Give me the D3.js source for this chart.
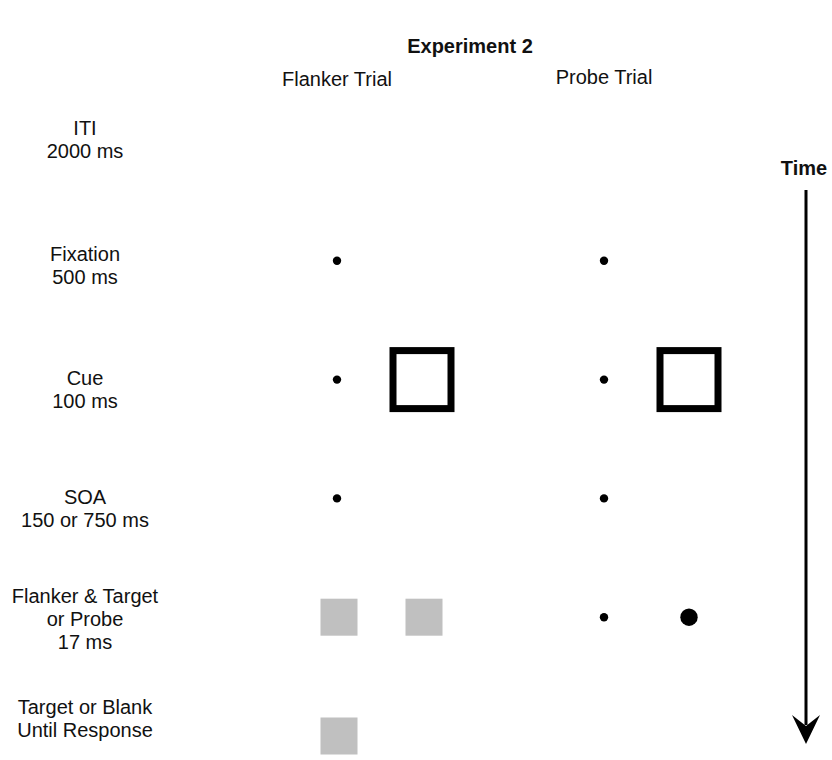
<!DOCTYPE html>
<html>
<head>
<meta charset="utf-8">
<script src="https://cdn.jsdelivr.net/npm/d3@7"></script>
<style>
  body { margin: 0; background: #fff; }
  svg text { font-family: "Liberation Sans", Arial, sans-serif; fill: #111; }
</style>
</head>
<body>
<svg id="chart" width="832" height="760"></svg>
<script>
// --- data -------------------------------------------------------------
const title = "Experiment 2";
const trials = ["Flanker Trial", "Probe Trial"];
const rows = ["ITI", "Fixation", "Cue", "SOA", "Display", "Response"];
const rowLabels = [
    ["ITI", "2000 ms"],
    ["Fixation", "500 ms"],
    ["Cue", "100 ms"],
    ["SOA", "150 or 750 ms"],
    ["Flanker & Target", "or Probe", "17 ms"],
    ["Target or Blank", "Until Response"]
];
// small fixation dots shown in each trial column
const fixationDots = [
    {trial: "Flanker Trial", row: "Fixation"},
    {trial: "Flanker Trial", row: "Cue"},
    {trial: "Flanker Trial", row: "SOA"},
    {trial: "Probe Trial", row: "Fixation"},
    {trial: "Probe Trial", row: "Cue"},
    {trial: "Probe Trial", row: "SOA"},
    {trial: "Probe Trial", row: "Display"}
];
// outlined cue squares (slot 1 = right of fixation)
const cues = [
    {trial: "Flanker Trial", row: "Cue", slot: 1},
    {trial: "Probe Trial", row: "Cue", slot: 1}
];
// gray flanker / target squares
const grayBoxes = [
    {trial: "Flanker Trial", row: "Display", slot: 0},
    {trial: "Flanker Trial", row: "Display", slot: 1},
    {trial: "Flanker Trial", row: "Response", slot: 0}
];
// probe dot
const probes = [
    {trial: "Probe Trial", row: "Display", slot: 1}
];
const timeLabel = "Time";

// --- layout -----------------------------------------------------------
const svg = d3.select("#chart");
const fontSize = 20, lineH = 23;
const labelX = 85;
const slotGap = 85;
// vertical nudge of the left labels relative to their row
const labelShift = {ITI: -3, Fixation: 5, Cue: 10, SOA: 10, Display: 2, Response: -18};

const x = d3.scalePoint().domain(trials).range([337, 604]);
const y = d3.scalePoint().domain(rows).range([142, 736]);
const sx = d => x(d.trial) + (d.slot || 0) * slotGap;

// title and column headers
svg.append("text")
    .attr("x", 470).attr("y", 53)
    .attr("text-anchor", "middle")
    .style("font-size", fontSize + "px")
    .style("font-weight", "bold")
    .text(title);

svg.selectAll(".trial")
    .data(trials)
    .enter().append("text")
    .attr("class", "trial")
    .attr("x", d => x(d))
    .attr("y", (d, i) => 86 - i * 2)
    .attr("text-anchor", "middle")
    .style("font-size", fontSize + "px")
    .text(d => d);

// row labels
const lab = svg.selectAll(".rowlabel")
    .data(rows)
    .enter().append("text")
    .attr("class", "rowlabel")
    .attr("text-anchor", "middle")
    .style("font-size", fontSize + "px");

lab.each(function (r, i) {
    const lines = rowLabels[i];
    const cy = y(r) + labelShift[r];
    const first = cy - (lines.length - 1) * lineH / 2 + 7;
    d3.select(this).selectAll("tspan")
        .data(lines)
        .enter().append("tspan")
        .attr("x", labelX)
        .attr("y", (d, j) => first + j * lineH)
        .text(d => d);
});

// marks
svg.selectAll(".fix")
    .data(fixationDots)
    .enter().append("circle")
    .attr("class", "fix")
    .attr("cx", d => sx(d))
    .attr("cy", d => y(d.row))
    .attr("r", 4.2)
    .attr("fill", "#000");

const cueSize = 58;
svg.selectAll(".cue")
    .data(cues)
    .enter().append("rect")
    .attr("class", "cue")
    .attr("x", d => sx(d) - cueSize / 2)
    .attr("y", d => y(d.row) - cueSize / 2)
    .attr("width", cueSize)
    .attr("height", cueSize)
    .attr("fill", "none")
    .attr("stroke", "#000")
    .attr("stroke-width", 7);

const boxSize = 37;
svg.selectAll(".gray")
    .data(grayBoxes)
    .enter().append("rect")
    .attr("class", "gray")
    .attr("x", d => sx(d) - boxSize / 2 + 2)
    .attr("y", d => y(d.row) - boxSize / 2)
    .attr("width", boxSize)
    .attr("height", boxSize)
    .attr("fill", "#c0c0c0");

svg.selectAll(".probe")
    .data(probes)
    .enter().append("circle")
    .attr("class", "probe")
    .attr("cx", d => sx(d))
    .attr("cy", d => y(d.row))
    .attr("r", 8.7)
    .attr("fill", "#000");

// time arrow
const ax = 806;
svg.append("text")
    .attr("x", ax - 2).attr("y", 175)
    .attr("text-anchor", "middle")
    .style("font-size", fontSize + "px")
    .style("font-weight", "bold")
    .text(timeLabel);

svg.append("line")
    .attr("x1", ax).attr("x2", ax)
    .attr("y1", 190).attr("y2", 725)
    .attr("stroke", "#000")
    .attr("stroke-width", 3);

svg.append("path")
    .attr("d", d3.line()([[ax, 744], [ax - 14, 715], [ax, 726], [ax + 14, 715]]) + "Z")
    .attr("fill", "#000");
</script>
</body>
</html>
